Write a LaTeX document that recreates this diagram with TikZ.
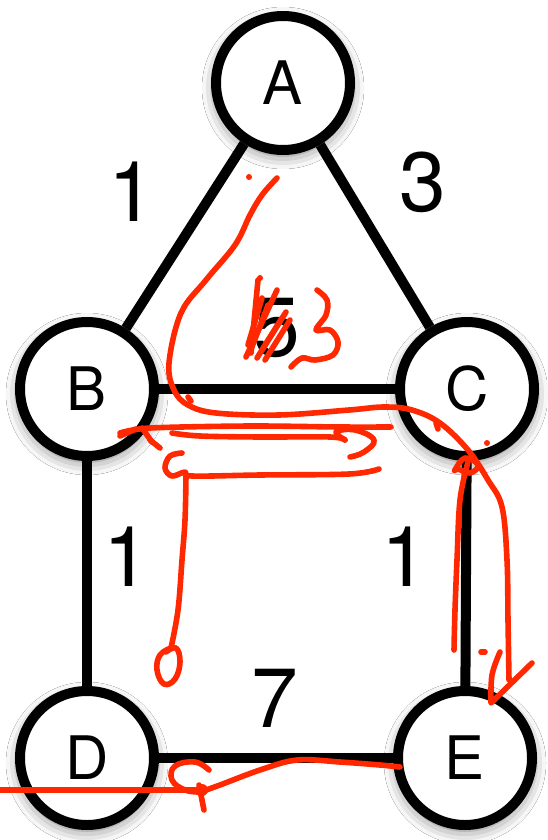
\documentclass[tikz,border=0pt]{standalone}
\usepackage{fontspec}
\setmainfont{TeX Gyre Heros}
\usetikzlibrary{shadows.blur}
\definecolor{inkred}{RGB}{255,40,0}
\begin{document}
\begin{tikzpicture}[x=0.5pt,y=-0.5pt,
  vert/.style={circle,draw=black,line width=5pt,fill=white,minimum size=67pt,inner sep=0pt,
    font=\fontsize{30}{30}\selectfont,
    blur shadow={shadow xshift=0pt,shadow yshift=-2.5pt,shadow blur radius=7pt,shadow opacity=55}},
  edgeline/.style={line width=5pt},
  wlabel/.style={font=\fontsize{42}{42}\selectfont,inner sep=0pt},
  ink/.style={draw=inkred,line width=2.8pt,line cap=round,line join=round}]
\useasboundingbox (0,0) rectangle (547,840);
\fill[white] (0,0) rectangle (547,840);

% vertices
\node[vert] (A) at (283,83) {A};
\node[vert] (B) at (87,389) {B};
\node[vert] (C) at (467,389) {C};
\node[vert] (D) at (87,758) {D};
\node[vert] (E) at (465,758) {E};

% edges
\draw[edgeline] (A) -- (B);
\draw[edgeline] (A) -- (C);
\draw[edgeline] (B) -- (C);
\draw[edgeline] (B) -- (D);
\draw[edgeline] (C) -- (E);
\draw[edgeline] (D) -- (E);

% weights
\node[wlabel] (wab) at (132,192) {1};
\node[wlabel] (wac) at (423,182) {3};
\node[wlabel] (wbc) at (277,328) {5};
\node[wlabel] (wbd) at (127,557) {1};
\node[wlabel] (wce) at (405,557) {1};
\node[wlabel] (wde) at (275,698) {7};

% red hand-drawn annotations
\draw[ink] plot[smooth,tension=0.6] coordinates {(277,178) (262,195) (250,215) (235,245) (206,280) (181,313) (169,363) (174,390) (188,405) (216,413) (279,415) (349,410) (384,407) (412,410) (440,423) (468,450) (488,480) (502,507) (507,560) (508,620) (509,680)};
\draw[ink] plot[smooth,tension=0.6] coordinates {(500,652) (492,675) (491,703)} -- (532,663);
\draw[ink] (481,652) -- (485,652);
\draw[ink] plot[smooth,tension=0.6] coordinates {(468,462) (460,500) (457,560) (455,610) (454,650)};
\draw[ink] plot[smooth cycle,tension=0.7] coordinates {(455,470) (465,458) (478,465) (470,473) (458,469)};
\draw[ink] plot[smooth,tension=0.5] coordinates {(120,433) (150,428) (250,426) (340,427) (391,427)};
\draw[ink] plot[smooth,tension=0.6] coordinates {(172,433) (200,436) (260,437) (330,437) (345,440)};
\draw[ink] plot[smooth,tension=0.7] coordinates {(345,440) (336,432) (355,430) (374,440) (364,452) (350,457)};
\draw[ink] plot[smooth,tension=0.6] coordinates {(182,453) (170,456) (165,468) (172,476) (185,472) (192,476) (260,475) (349,474) (379,469)};
\draw[ink] plot[smooth,tension=0.6] coordinates {(186,475) (185,520) (182,560) (178,610) (171,648)};
\draw[ink] plot[smooth,tension=0.7] coordinates {(171,648) (160,655) (157,670) (164,684) (175,679) (180,662) (176,648) (166,652)};
\draw[ink] (120,436) -- (136,429);
\draw[ink] (142,428) -- (152,442);
\draw[ink] (150,440) -- (160,448);
\draw[ink] (188,397) -- (191,401);
\draw[ink] (436,423) -- (438,429);
\fill[inkred] (249,177) circle (3);
\fill[inkred] (260,278) circle (3);
\fill[inkred] (487,443) circle (3);
% scribble over the 5
\draw[ink] (277,290) -- (246,357);
\draw[ink] (258,280) -- (251,353);
\draw[ink] (290,320) -- (265,360);
\draw[ink] (268,305) -- (250,352);
\draw[ink] (282,318) -- (257,358);
\draw[ink] (262,298) -- (248,345);
\draw[ink] (286,312) -- (262,350);
% the written 3
\draw[ink] plot[smooth,tension=0.6] coordinates {(317,290) (327,300) (326,315) (316,330) (330,330) (338,342) (333,355) (315,360) (302,358) (291,367)};
% bottom stroke
\draw[ink] plot[smooth,tension=0.6] coordinates {(400,767) (380,765) (340,762) (297,760) (260,770) (220,785) (206,790)};
\draw[ink] (0,790) -- (206,790);
\draw[ink] plot[smooth,tension=0.7] coordinates {(209,770) (195,762) (175,766) (172,780) (185,790) (200,792)};
\draw[ink] (199,785) -- (204,810);
\fill[inkred] (202,790) circle (6);
\end{tikzpicture}
\end{document}
